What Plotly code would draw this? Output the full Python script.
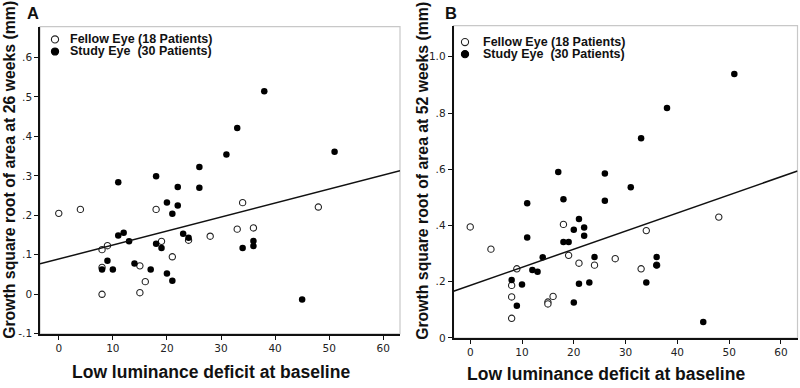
import plotly.graph_objects as go

# ---------------- data ----------------
a_fellow_x = [0, 4, 8, 8, 8, 9, 15, 15, 16, 18, 19, 21, 24, 28, 33, 34, 36, 48]
a_fellow_y = [0.205, 0.215, 0.113, 0.068, 0.0, 0.123, 0.072, 0.004, 0.032, 0.215,
              0.134, 0.095, 0.137, 0.147, 0.165, 0.232, 0.168, 0.221]
a_study_x = [8, 9, 10, 11, 11, 12, 13, 14, 17, 18, 18, 19, 20, 20, 21, 21, 22, 22,
             23, 24, 26, 26, 31, 33, 34, 36, 36, 38, 45, 51]
a_study_y = [0.0625, 0.085, 0.0625, 0.284, 0.149, 0.156, 0.134, 0.078, 0.0625, 0.299,
             0.128, 0.1175, 0.2325, 0.0525, 0.204, 0.034, 0.272, 0.225, 0.153, 0.143,
             0.3225, 0.27, 0.354, 0.421, 0.1175, 0.135, 0.1225, 0.514, -0.013, 0.361]

b_fellow_x = [0, 4, 8, 8, 8, 9, 15, 15, 16, 18, 19, 21, 24, 28, 33, 34, 36, 48]
b_fellow_y = [0.395, 0.316, 0.187, 0.146, 0.07, 0.246, 0.128, 0.121, 0.148, 0.404,
              0.294, 0.266, 0.259, 0.282, 0.246, 0.382, 0.259, 0.43]
b_study_x = [8, 9, 10, 11, 11, 12, 13, 14, 17, 18, 18, 19, 20, 20, 21, 21, 22, 22,
             23, 24, 26, 26, 31, 33, 34, 36, 36, 38, 45, 51]
b_study_y = [0.206, 0.115, 0.19, 0.479, 0.357, 0.242, 0.236, 0.287, 0.59, 0.493,
             0.341, 0.341, 0.385, 0.126, 0.423, 0.193, 0.393, 0.364, 0.197, 0.288,
             0.585, 0.488, 0.536, 0.71, 0.197, 0.288, 0.259, 0.818, 0.057, 0.939]

# fitted regression lines (intercept, slope)
a_fit = [0.0893, 0.00354]
b_fit = [0.187, 0.00644]

x_ticks = [0, 10, 20, 30, 40, 50, 60]
x_ticklabels = ["0", "10", "20", "30", "40", "50", "60"]
a_yticks = [-0.1, 0, 0.1, 0.2, 0.3, 0.4, 0.5, 0.6]
a_yticklabels = ["-.1", "0", ".1", ".2", ".3", ".4", ".5", ".6"]
b_yticks = [0, 0.2, 0.4, 0.6, 0.8, 1.0]
b_yticklabels = ["0", ".2", ".4", ".6", ".8", "1.0"]

legend_labels = ["Fellow Eye (18 Patients)", "Study Eye\u00a0\u00a0(30 Patients)"]
x_title = "Low luminance deficit at baseline"
a_ytitle = "Growth square root of area at 26 weeks (mm)"
b_ytitle = "Growth square root of area at 52 weeks (mm)"

# ---------------- layout geometry ----------------
W, H = 800, 388
a_xrange = [-3.47, 63.1]
b_xrange = [-3.23, 63.2]
a_yrange = [-0.1, 0.678]
b_yrange = [0.0, 1.111]

def px(x):
    return x / W

def py(y):
    return 1 - y / H

fig = go.Figure()

BOLD = "Liberation Sans, Arial, sans-serif"
TICKF = dict(family="DejaVu Sans, Verdana, sans-serif", size=10.5, color="#222")

def add_panel(fx, fy, sx, sy, fit, xa, ya, xr):
    fig.add_trace(go.Scatter(x=fx, y=fy, mode="markers", xaxis=xa, yaxis=ya,
                             marker=dict(size=6.3, color="white",
                                         line=dict(color="#222", width=1.1)),
                             showlegend=False, hoverinfo="x+y"))
    fig.add_trace(go.Scatter(x=sx, y=sy, mode="markers", xaxis=xa, yaxis=ya,
                             marker=dict(size=6.5, color="black",
                                         line=dict(color="black", width=0)),
                             showlegend=False, hoverinfo="x+y"))
    lx = [xr[0], xr[1]]
    ly = [fit[0] + fit[1] * v for v in lx]
    fig.add_trace(go.Scatter(x=lx, y=ly, mode="lines", xaxis=xa, yaxis=ya,
                             line=dict(color="#111", width=1.5),
                             showlegend=False, hoverinfo="skip"))

add_panel(a_fellow_x, a_fellow_y, a_study_x, a_study_y, a_fit, "x", "y", a_xrange)
add_panel(b_fellow_x, b_fellow_y, b_study_x, b_study_y, b_fit, "x2", "y2", b_xrange)

axis_common = dict(showgrid=False, zeroline=False, showline=True, linecolor="#111",
                   linewidth=1.5, ticks="outside", ticklen=4, tickwidth=1,
                   tickcolor="#111", tickfont=TICKF, fixedrange=True)

fig.update_layout(
    width=W, height=H, margin=dict(l=0, r=0, t=0, b=0),
    paper_bgcolor="white", plot_bgcolor="white", showlegend=False,
    xaxis=dict(domain=[px(40), px(400)], range=a_xrange, anchor="y",
               tickvals=x_ticks, ticktext=x_ticklabels, **axis_common),
    yaxis=dict(domain=[py(339), py(27)], range=a_yrange, anchor="x",
               tickvals=a_yticks, ticktext=a_yticklabels, **axis_common),
    xaxis2=dict(domain=[px(453.5), px(797.5)], range=b_xrange, anchor="y2",
                tickvals=x_ticks, ticktext=x_ticklabels, **axis_common),
    yaxis2=dict(domain=[py(343.3), py(26)], range=b_yrange, anchor="x2",
                tickvals=b_yticks, ticktext=b_yticklabels, **axis_common),
)

# light grey frame around each data region
for xd, yd in (("x domain", "y domain"), ("x2 domain", "y2 domain")):
    fig.add_shape(type="rect", xref=xd, yref=yd, x0=0, x1=1, y0=0, y1=1,
                  line=dict(color="#c8c8c8", width=1.2), layer="below")

# legends (symbol + text), per panel
for cx, ty, tx in ((55, 40, 67.5), (465, 42.7, 481)):
    for i, lab in enumerate(legend_labels):
        yy = ty + i * 12.3
        fig.add_shape(type="circle", xref="paper", yref="paper",
                      x0=px(cx - 3.6), x1=px(cx + 3.6), y0=py(yy + 3.6), y1=py(yy - 3.6),
                      fillcolor="white" if i == 0 else "black",
                      line=dict(color="#222" if i == 0 else "black", width=1.1))
        fig.add_annotation(xref="paper", yref="paper", x=px(tx), y=py(yy),
                           xanchor="left", yanchor="middle", showarrow=False,
                           text="<b>" + lab + "</b>",
                           font=dict(family=BOLD, size=12.5, color="#111"))

# axis titles and panel letters
title_font = dict(family=BOLD, size=17.5, color="#111")
for cx, cy in ((211, 377.5), (606, 379.5)):
    fig.add_annotation(xref="paper", yref="paper", x=px(cx), y=py(cy),
                       xanchor="center", yanchor="middle", showarrow=False,
                       text="<b>" + x_title + "</b>", font=title_font)
for cx, cy, t in ((9.5, 173, a_ytitle), (422.5, 173, b_ytitle)):
    fig.add_annotation(xref="paper", yref="paper", x=px(cx), y=py(cy),
                       xanchor="center", yanchor="middle", showarrow=False,
                       textangle=-90, text="<b>" + t + "</b>",
                       font=dict(family=BOLD, size=15.8, color="#111"))
for cx, cy, t in ((32.5, 13.5, "A"), (451, 13.5, "B")):
    fig.add_annotation(xref="paper", yref="paper", x=px(cx), y=py(cy),
                       xanchor="center", yanchor="middle", showarrow=False,
                       text="<b>" + t + "</b>",
                       font=dict(family=BOLD, size=16.5, color="#111"))

fig.write_html("out.html", config={"displayModeBar": False},
               post_script="document.body.style.margin='0';document.body.style.padding='0';")
